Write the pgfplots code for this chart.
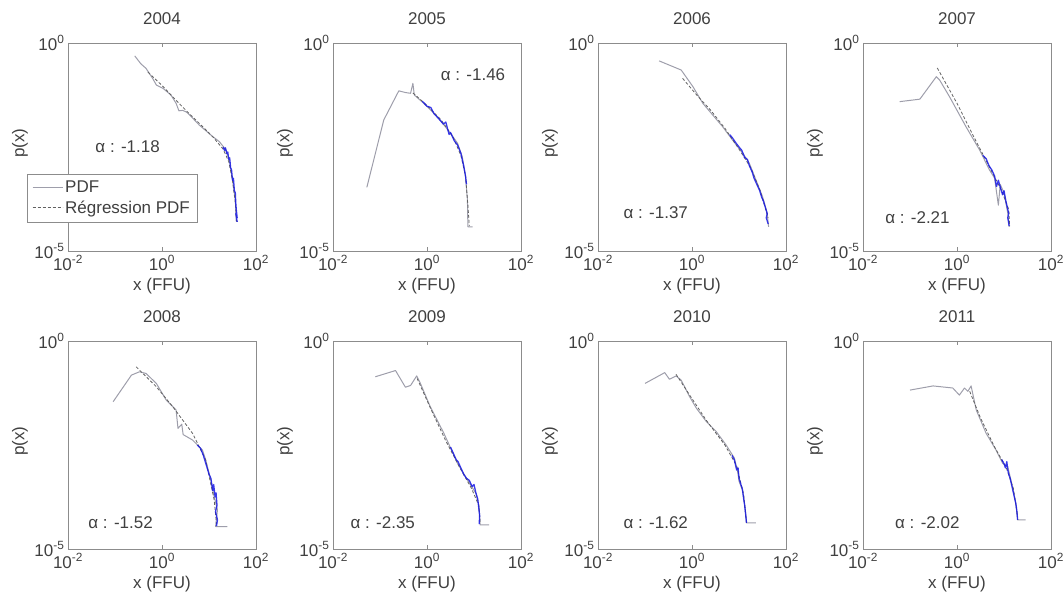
\documentclass[border=0pt]{standalone}
\usepackage{pgfplots}
\pgfplotsset{compat=1.18}
\usepackage{fontspec}
\setmainfont{Liberation Sans}
\definecolor{txt}{rgb}{0.25,0.25,0.25}
\definecolor{axc}{rgb}{0.55,0.55,0.55}
\definecolor{pdfc}{rgb}{0.62,0.62,0.67}
\definecolor{regc}{rgb}{0.38,0.38,0.38}
\definecolor{tailc}{rgb}{0.10,0.10,0.90}
\newcommand{\fs}{\fontsize{17bp}{19bp}\selectfont}
\pgfplotsset{
  panel/.style={
    scale only axis, width=188bp, height=208bp,
    anchor=south west,
    xmin=-2, xmax=2, ymin=-5, ymax=0,
    xtick={-2,0,2}, xticklabels={10\textsuperscript{-2},10\textsuperscript{0},10\textsuperscript{2}},
    ytick={-5,0}, yticklabels={10\textsuperscript{-5},10\textsuperscript{0}},
    axis line style={axc, line width=0.8bp},
    tick style={axc, line width=0.6bp},
    major tick length=4bp, tick align=inside,
    ticklabel style={font=\fs, text=txt},
    xticklabel style={yshift=-1bp},
    xlabel={x (FFU)}, ylabel={p(x)},
    xlabel style={font=\fs, text=txt, at={(axis description cs:0.5,0)}, anchor=center, yshift=-35bp},
    ylabel style={font=\fs, text=txt, at={(axis description cs:0,0.5)}, anchor=center, yshift=48bp, xshift=4bp},
    title style={font=\fs, text=txt, at={(axis description cs:0.5,1)}, anchor=center, yshift=18bp},
    clip=false,
  },
  pdf/.style={pdfc, line width=1bp, line join=round},
  reg/.style={regc, dashed, dash pattern=on 3bp off 2bp, line width=0.8bp},
  tail/.style={tailc, line width=1.3bp, line join=round, opacity=0.85},
}
\newcommand{\alab}[3]{\node[anchor=west, font=\fs, text=txt] at (axis cs:#1,#2) {α : #3};}
\begin{document}
\begin{tikzpicture}
\useasboundingbox (0bp,0bp) rectangle (1064bp,601bp);
% ---------------- 2004
\begin{axis}[panel, at={(68bp,350bp)}, title={2004},
  legend style={at={(axis description cs:-0.218,0.139)}, anchor=south west, draw=axc, fill=white, font=\fs, text=txt, inner xsep=5bp, inner ysep=5bp, row sep=3bp, cells={anchor=west}},
  legend image code/.code={\draw[#1] (0bp,0bp) -- (30bp,0bp);}]
\addplot[pdf] coordinates {(-0.58,-0.31) (-0.45,-0.50) (-0.34,-0.61) (-0.20,-0.85) (-0.12,-1.01) (0.02,-1.09) (0.19,-1.25) (0.30,-1.45) (0.36,-1.63) (0.44,-1.62) (0.52,-1.66) (0.58,-1.72) (0.79,-1.97) (1.08,-2.25) (1.22,-2.37) (1.36,-2.57) (1.43,-2.81) (1.50,-3.29) (1.56,-3.77) (1.58,-4.29)};
\addlegendentry{PDF}
\addplot[reg] coordinates {(-0.30,-0.70) (0.00,-1.02) (0.30,-1.38) (0.60,-1.72) (0.90,-2.05) (1.10,-2.28) (1.30,-2.55) (1.42,-2.85) (1.50,-3.30) (1.56,-3.85) (1.59,-4.30)};
\addlegendentry{Régression PDF}
\addplot[tail, forget plot] coordinates {(1.30,-2.50) (1.33,-2.58) (1.35,-2.52) (1.38,-2.66) (1.40,-2.62) (1.42,-2.80) (1.44,-2.76) (1.46,-3.00) (1.48,-3.05) (1.50,-3.30) (1.52,-3.25) (1.54,-3.55) (1.56,-3.60) (1.57,-3.85) (1.58,-4.00) (1.60,-4.20) (1.57,-4.10) (1.60,-4.30)};
\alab{-1.49}{-2.50}{-1.18}
\end{axis}
% ---------------- 2005
\begin{axis}[panel, at={(333bp,350bp)}, title={2005}]
\addplot[pdf] coordinates {(-1.28,-3.47) (-0.92,-1.85) (-0.60,-1.15) (-0.46,-1.19) (-0.35,-1.21) (-0.30,-0.97) (-0.27,-1.25) (-0.07,-1.45) (0.22,-1.77) (0.50,-2.17) (0.65,-2.41) (0.75,-2.73) (0.82,-3.21) (0.86,-3.77) (0.87,-4.42) (0.97,-4.42)};
\addplot[reg] coordinates {(-0.30,-1.20) (0.00,-1.50) (0.30,-1.85) (0.55,-2.25) (0.72,-2.70) (0.82,-3.20) (0.87,-3.90) (0.90,-4.40)};
\addplot[tail] coordinates {(-0.10,-1.40) (0.00,-1.52) (0.08,-1.55) (0.15,-1.70) (0.25,-1.82) (0.35,-1.95) (0.40,-1.90) (0.47,-2.20) (0.50,-2.15) (0.58,-2.35) (0.65,-2.45) (0.72,-2.65) (0.78,-2.95) (0.82,-3.20) (0.84,-3.40)};
\alab{0.22}{-0.77}{-1.46}
\end{axis}
% ---------------- 2006
\begin{axis}[panel, at={(598bp,350bp)}, title={2006}]
\addplot[pdf] coordinates {(-0.70,-0.43) (-0.23,-0.65) (0.02,-1.05) (0.23,-1.45) (0.41,-1.69) (0.65,-2.01) (0.86,-2.33) (1.08,-2.65) (1.22,-2.89) (1.36,-3.29) (1.50,-3.69) (1.60,-4.09) (1.63,-4.42)};
\addplot[reg] coordinates {(-0.20,-0.85) (0.10,-1.25) (0.40,-1.62) (0.70,-2.05) (1.00,-2.55) (1.25,-3.00) (1.45,-3.55) (1.62,-4.20)};
\addplot[tail] coordinates {(0.80,-2.20) (0.86,-2.28) (0.92,-2.38) (1.00,-2.50) (1.06,-2.58) (1.12,-2.75) (1.18,-2.80) (1.22,-2.95) (1.28,-3.10) (1.32,-3.25) (1.38,-3.40) (1.44,-3.55) (1.48,-3.70) (1.52,-3.80) (1.56,-3.95) (1.60,-4.10) (1.58,-4.20) (1.62,-4.35)};
\alab{-1.53}{-4.09}{-1.37}
\end{axis}
% ---------------- 2007
\begin{axis}[panel, at={(863bp,350bp)}, title={2007}]
\addplot[pdf] coordinates {(-1.22,-1.41) (-0.79,-1.35) (-0.44,-0.81) (-0.37,-0.89) (-0.16,-1.29) (0.19,-2.01) (0.48,-2.57) (0.69,-3.05) (0.80,-3.25) (0.88,-3.90) (0.92,-3.40) (1.00,-3.60) (1.08,-4.09) (1.11,-4.42)};
\addplot[reg] coordinates {(-0.42,-0.60) (0.00,-1.45) (0.40,-2.35) (0.70,-3.00) (0.95,-3.55) (1.10,-4.00) (1.12,-4.40)};
\addplot[tail] coordinates {(0.55,-2.70) (0.62,-2.78) (0.68,-2.95) (0.74,-3.05) (0.80,-3.20) (0.84,-3.45) (0.88,-3.30) (0.93,-3.50) (0.97,-3.65) (1.00,-3.55) (1.04,-3.80) (1.07,-3.95) (1.10,-4.10) (1.08,-4.20) (1.11,-4.40)};
\alab{-1.60}{-4.20}{-2.21}
\end{axis}
% ---------------- 2008
\begin{axis}[panel, at={(68bp,52bp)}, title={2008}]
\addplot[pdf] coordinates {(-1.04,-1.46) (-0.65,-0.82) (-0.48,-0.74) (-0.34,-0.78) (-0.12,-1.02) (0.09,-1.42) (0.30,-1.66) (0.34,-2.10) (0.42,-2.00) (0.45,-2.25) (0.65,-2.38) (0.86,-2.62) (0.93,-2.86) (1.04,-3.34) (1.11,-3.74) (1.18,-4.06) (1.14,-4.46) (1.39,-4.46)};
\addplot[reg] coordinates {(-0.55,-0.62) (-0.12,-1.10) (0.23,-1.58) (0.65,-2.22) (0.93,-2.86) (1.11,-3.82) (1.16,-4.40)};
\addplot[tail] coordinates {(0.75,-2.50) (0.82,-2.58) (0.88,-2.75) (0.92,-2.90) (0.96,-3.05) (1.00,-3.20) (1.04,-3.30) (1.08,-3.60) (1.10,-3.45) (1.13,-3.75) (1.15,-3.65) (1.17,-3.95) (1.14,-4.10) (1.18,-4.30) (1.16,-4.45)};
\alab{-1.64}{-4.37}{-1.52}
\end{axis}
% ---------------- 2009
\begin{axis}[panel, at={(333bp,52bp)}, title={2009}]
\addplot[pdf] coordinates {(-1.10,-0.86) (-0.67,-0.71) (-0.46,-1.11) (-0.35,-1.07) (-0.22,-0.84) (-0.14,-1.02) (0.07,-1.58) (0.36,-2.22) (0.65,-2.94) (0.86,-3.34) (1.04,-3.66) (1.11,-3.98) (1.13,-4.42) (1.32,-4.42)};
\addplot[reg] coordinates {(-0.21,-0.90) (0.10,-1.68) (0.40,-2.40) (0.70,-3.05) (0.95,-3.55) (1.10,-3.95) (1.13,-4.35)};
\addplot[tail] coordinates {(0.50,-2.55) (0.56,-2.70) (0.62,-2.85) (0.66,-2.90) (0.72,-3.05) (0.78,-3.20) (0.84,-3.30) (0.90,-3.35) (0.96,-3.50) (1.00,-3.45) (1.04,-3.65) (1.08,-3.80) (1.10,-4.00) (1.12,-4.20) (1.11,-4.40)};
\alab{-1.70}{-4.37}{-2.35}
\end{axis}
% ---------------- 2010
\begin{axis}[panel, at={(598bp,52bp)}, title={2010}]
\addplot[pdf] coordinates {(-1.00,-1.02) (-0.58,-0.76) (-0.48,-0.92) (-0.34,-0.84) (-0.23,-0.94) (-0.05,-1.34) (0.09,-1.61) (0.30,-1.93) (0.51,-2.17) (0.72,-2.49) (0.90,-2.81) (0.97,-3.13) (1.00,-3.37) (1.08,-3.61) (1.13,-4.01) (1.16,-4.37) (1.36,-4.37)};
\addplot[reg] coordinates {(-0.34,-0.80) (-0.05,-1.30) (0.30,-1.90) (0.70,-2.50) (0.95,-3.00) (1.10,-3.70) (1.16,-4.40)};
\addplot[tail] coordinates {(0.85,-2.75) (0.90,-2.85) (0.95,-3.10) (0.98,-3.05) (1.00,-3.30) (1.04,-3.45) (1.07,-3.55) (1.10,-3.80) (1.12,-3.95) (1.14,-4.15) (1.16,-4.37)};
\alab{-1.53}{-4.37}{-1.62}
\end{axis}
% ---------------- 2011
\begin{axis}[panel, at={(863bp,52bp)}, title={2011}]
\addplot[pdf] coordinates {(-1.00,-1.18) (-0.51,-1.08) (-0.09,-1.13) (0.05,-1.30) (0.16,-1.13) (0.23,-1.21) (0.30,-1.08) (0.41,-1.66) (0.62,-2.22) (0.83,-2.62) (0.97,-2.94) (1.08,-3.02) (1.18,-3.50) (1.25,-3.90) (1.29,-4.30) (1.46,-4.30)};
\addplot[reg] coordinates {(0.27,-1.21) (0.50,-1.85) (0.80,-2.55) (1.05,-3.05) (1.20,-3.55) (1.29,-4.22)};
\addplot[tail] coordinates {(0.95,-2.85) (1.00,-2.95) (1.03,-3.05) (1.06,-2.90) (1.08,-3.10) (1.10,-3.20) (1.13,-3.30) (1.16,-3.45) (1.19,-3.60) (1.22,-3.75) (1.25,-3.90) (1.27,-4.05) (1.29,-4.30)};
\alab{-1.39}{-4.37}{-2.02}
\end{axis}
\end{tikzpicture}
\end{document}
